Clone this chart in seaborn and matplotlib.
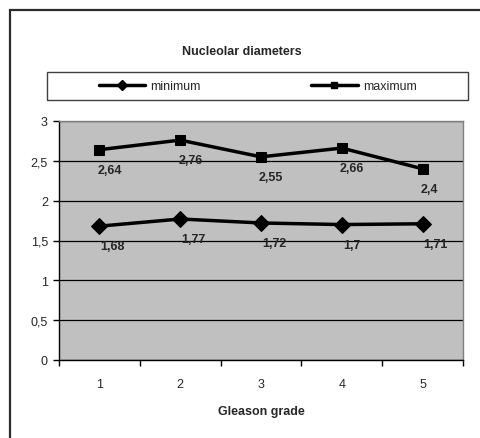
import matplotlib
matplotlib.use("Agg")
import matplotlib.pyplot as plt
import seaborn as sns
import pandas as pd
from matplotlib.lines import Line2D
from matplotlib.patches import Rectangle

grades = [1, 2, 3, 4, 5]
minimum = [1.68, 1.77, 1.72, 1.70, 1.71]
maximum = [2.64, 2.76, 2.55, 2.66, 2.40]
min_labels = ["1,68", "1,77", "1,72", "1,7", "1,71"]
max_labels = ["2,64", "2,76", "2,55", "2,66", "2,4"]
yticks = [0, 0.5, 1, 1.5, 2, 2.5, 3]
ytick_labels = ["0", "0,5", "1", "1,5", "2", "2,5", "3"]

sns.set_style("white")
plt.rcParams['font.family'] = ['Liberation Sans', 'DejaVu Sans']

W, H = 481, 439
fig = plt.figure(figsize=(W / 100, H / 100), dpi=100)
px = 0.72  # points per pixel
FS = 9

# outer chart border (top and left visible)
fig.patches.append(Rectangle((10 / W, -0.1), 1.2, 1 - 10.5 / H + 0.1,
                             transform=fig.transFigure, fill=False,
                             edgecolor="#2b2b2b", linewidth=1.6, zorder=0))

ax = fig.add_axes([59 / W, 1 - 361 / H, (463 - 59) / W, (361 - 122) / H])
ax.set_facecolor("#C0C0C0")

df_min = pd.DataFrame({"grade": grades, "value": minimum})
df_max = pd.DataFrame({"grade": grades, "value": maximum})

sns.lineplot(data=df_min, x="grade", y="value", ax=ax, color="black",
             linewidth=2.5, marker="D", markersize=8.5, markeredgecolor="black",
             zorder=5)
sns.lineplot(data=df_max, x="grade", y="value", ax=ax, color="black",
             linewidth=2.5, marker="s", markersize=7.5, markeredgecolor="black",
             zorder=5)

for x, y, t in zip(grades, minimum, min_labels):
    ax.annotate(t, (x, y), xytext=(1 * px, -14 * px), textcoords="offset points",
                ha="left", va="top", fontsize=FS, fontweight="bold", zorder=6)
for x, y, t in zip(grades, maximum, max_labels):
    ax.annotate(t, (x, y), xytext=(-2 * px, -14 * px), textcoords="offset points",
                ha="left", va="top", fontsize=FS, fontweight="bold", zorder=6)

ax.set_xlim(0.5, 5.5)
ax.set_ylim(0, 3)
ax.set_yticks(yticks)
ax.set_yticklabels(ytick_labels, fontsize=FS)
ax.set_xticks(grades)
ax.set_xticklabels([str(g) for g in grades], fontsize=FS)
ax.set_xticks([0.5, 1.5, 2.5, 3.5, 4.5, 5.5], minor=True)
ax.tick_params(axis="x", which="major", length=0, pad=13)
ax.tick_params(axis="x", which="minor", length=4, width=1, color="black",
               direction="out", bottom=True)
ax.tick_params(axis="y", length=4, width=1, color="black", direction="out",
               left=True, pad=4)
ax.yaxis.grid(True, color="black", linewidth=0.9)
ax.xaxis.grid(False)
ax.set_axisbelow(True)

for s in ["left", "bottom"]:
    ax.spines[s].set_color("black")
    ax.spines[s].set_linewidth(1.0)
for s in ["top", "right"]:
    ax.spines[s].set_color("#808080")
    ax.spines[s].set_linewidth(1.0)

ax.set_xlabel("Gleason grade", fontsize=FS, fontweight="bold", labelpad=11)
ax.set_ylabel("")

fig.text(242 / W, 1 - 52 / H, "Nucleolar diameters", ha="center", va="center",
         fontsize=FS, fontweight="bold")

# legend box
fig.patches.append(Rectangle((47 / W, 1 - 101 / H), (468 - 47) / W, 28 / H,
                             transform=fig.transFigure, fill=False,
                             edgecolor="#404040", linewidth=1.0, zorder=1))
handles = [
    Line2D([], [], color="black", linewidth=2.5, marker="D", markersize=5),
    Line2D([], [], color="black", linewidth=2.5, marker="s", markersize=5),
]
fig.legend(handles, ["minimum", "maximum"], loc="center",
           bbox_to_anchor=(257.5 / W, 1 - 87 / H), ncol=2, frameon=False,
           fontsize=FS, handlelength=3.75, handletextpad=0.4,
           columnspacing=8.8, borderpad=0)

fig.savefig("out.png", dpi=100)
